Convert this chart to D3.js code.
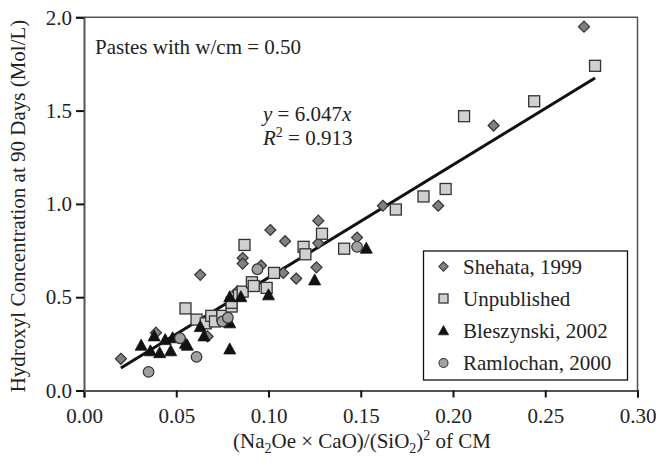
<!DOCTYPE html>
<html><head><meta charset="utf-8">
<script src="https://cdn.jsdelivr.net/npm/d3@7"></script>
<style>body{margin:0;background:#fff}svg{display:block}svg text{font-family:'Liberation Serif','Times New Roman',Times,serif !important}</style>
</head><body><svg id="c" width="658" height="462" font-family="'Liberation Serif', 'Times New Roman', Times, serif"></svg>
<script>
const xTicks = [0, 0.05, 0.10, 0.15, 0.20, 0.25, 0.30];
const yTicks = [0, 0.5, 1.0, 1.5, 2.0];
const seriesNames = ["Shehata, 1999", "Unpublished", "Bleszynski, 2002", "Ramlochan, 2000"];
const shehata = [[0.020,0.17],[0.039,0.31],[0.063,0.62],[0.067,0.29],[0.083,0.53],[0.086,0.71],[0.086,0.68],[0.096,0.67],[0.101,0.86],[0.109,0.80],[0.108,0.63],[0.115,0.60],[0.126,0.66],[0.127,0.79],[0.127,0.91],[0.148,0.82],[0.162,0.99],[0.192,0.99],[0.222,1.42],[0.271,1.95]];
const unpublished = [[0.055,0.44],[0.061,0.38],[0.066,0.36],[0.069,0.40],[0.071,0.37],[0.075,0.40],[0.080,0.45],[0.080,0.47],[0.084,0.51],[0.086,0.53],[0.087,0.78],[0.091,0.58],[0.092,0.56],[0.099,0.55],[0.103,0.63],[0.119,0.77],[0.120,0.73],[0.129,0.84],[0.141,0.76],[0.169,0.97],[0.184,1.04],[0.196,1.08],[0.206,1.47],[0.244,1.55],[0.277,1.74]];
const bleszynski = [[0.031,0.24],[0.036,0.21],[0.038,0.29],[0.041,0.20],[0.044,0.27],[0.048,0.28],[0.047,0.21],[0.055,0.25],[0.056,0.24],[0.063,0.34],[0.065,0.29],[0.079,0.22],[0.079,0.36],[0.079,0.50],[0.085,0.50],[0.100,0.51],[0.125,0.59],[0.153,0.76]];
const ramlochan = [[0.035,0.10],[0.052,0.28],[0.061,0.18],[0.075,0.37],[0.078,0.39],[0.094,0.65],[0.148,0.77]];
const slope = 6.047;
const fitRange = [0.02, 0.277];

const FONT = "'Liberation Serif', 'Times New Roman', Times, serif";
const FS = 21;
const svg = d3.select("#c");
const x = d3.scaleLinear().domain([0, 0.3]).range([84, 637.5]);
const y = d3.scaleLinear().domain([0, 2]).range([390.5, 17.3]);

// frame top/right
svg.append("path").attr("d", `M${x(0)},${y(2)}H${x(0.3)}V${y(0)}`).attr("fill","none").attr("stroke","#555").attr("stroke-width",1.5);

const gx = svg.append("g").attr("transform", `translate(0,${y(0)})`)
  .call(d3.axisBottom(x).tickValues(xTicks).tickFormat(d3.format(".2f")).tickSizeOuter(0).tickSize(7).tickPadding(11));
const gy = svg.append("g").attr("transform", `translate(${x(0)},0)`)
  .call(d3.axisLeft(y).tickValues(yTicks).tickFormat(d3.format(".1f")).tickSizeOuter(0).tickSize(8).tickPadding(4));
[gx, gy].forEach(g => {
  g.attr("font-family", FONT).attr("font-size", FS);
  g.select(".domain").attr("stroke","#555").attr("stroke-width",2);
  g.selectAll(".tick line").attr("stroke","#111").attr("stroke-width",2);
  g.selectAll(".tick text").attr("fill","#222").attr("font-family", FONT).attr("font-size", FS);
});

// fit line
svg.append("line").attr("x1", x(fitRange[0])).attr("y1", y(slope*fitRange[0]))
  .attr("x2", x(fitRange[1])).attr("y2", y(slope*fitRange[1]))
  .attr("stroke","#111").attr("stroke-width",3);

const shapes = {
  diamond: (g) => g.append("path").attr("d","M0,-5.5L5.5,0L0,5.5L-5.5,0Z").attr("fill","#808080").attr("stroke","#333").attr("stroke-width",1.2),
  square: (g) => g.append("rect").attr("x",-5.5).attr("y",-5.5).attr("width",11).attr("height",11).attr("fill","#d0d0d0").attr("stroke","#333").attr("stroke-width",1.3),
  triangle: (g) => g.append("path").attr("d","M0,-6.5L6,4.5L-6,4.5Z").attr("fill","#111").attr("stroke","#111").attr("stroke-width",0.8),
  circle: (g) => g.append("circle").attr("r",5.3).attr("fill","#a0a0a0").attr("stroke","#333").attr("stroke-width",1.2)
};
const series = [[shehata,"diamond"],[unpublished,"square"],[bleszynski,"triangle"],[ramlochan,"circle"]];
series.forEach(([data, shp]) => {
  const g = svg.append("g").selectAll("g").data(data).join("g")
    .attr("transform", d => `translate(${x(d[0])},${y(d[1])})`);
  g.each(function(){ shapes[shp](d3.select(this)); });
});

function txt(xp, yp) { return svg.append("text").attr("x",xp).attr("y",yp).attr("font-size",FS).attr("fill","#222"); }

// annotations
txt(95,54).text("Pastes with w/cm = 0.50");
const eq = txt(263,121);
eq.append("tspan").attr("font-style","italic").text("y");
eq.append("tspan").text(" = 6.047");
eq.append("tspan").attr("font-style","italic").text("x");
const r2 = txt(263,145);
r2.append("tspan").attr("font-style","italic").text("R");
r2.append("tspan").attr("font-size",14).attr("dy",-8).text("2");
r2.append("tspan").attr("dy",8).text(" = 0.913");

// legend
const lg = svg.append("g");
lg.append("rect").attr("x",423.5).attr("y",251).attr("width",204).attr("height",129).attr("fill","#fff").attr("stroke","#111").attr("stroke-width",1.3);
const rowsY = [266.5, 298.5, 331, 363];
const shpNames = ["diamond","square","triangle","circle"];
seriesNames.forEach((nm, i) => {
  const g = lg.append("g").attr("transform", `translate(443.5,${rowsY[i]})`);
  const s = shapes[shpNames[i]](g);
  if (shpNames[i]==="square") s.attr("x",-4.5).attr("y",-4.5).attr("width",9).attr("height",9);
  else s.attr("transform","scale(0.85)");
  txt(463, rowsY[i]+7).text(nm);
});

// axis titles
svg.append("text").attr("transform","translate(25,206) rotate(-90)").attr("text-anchor","middle").attr("font-size",FS).attr("fill","#222")
  .text("Hydroxyl Concentration at 90 Days (Mol/L)");
const xt = txt(362,448).attr("text-anchor","middle");
xt.append("tspan").text("(Na");
xt.append("tspan").attr("font-size",14).attr("dy",5).text("2");
xt.append("tspan").attr("dy",-5).text("Oe × CaO)/(SiO");
xt.append("tspan").attr("font-size",14).attr("dy",5).text("2");
xt.append("tspan").attr("dy",-5).text(")");
xt.append("tspan").attr("font-size",14).attr("dy",-8).text("2");
xt.append("tspan").attr("dy",8).text(" of CM");
</script></body></html>
